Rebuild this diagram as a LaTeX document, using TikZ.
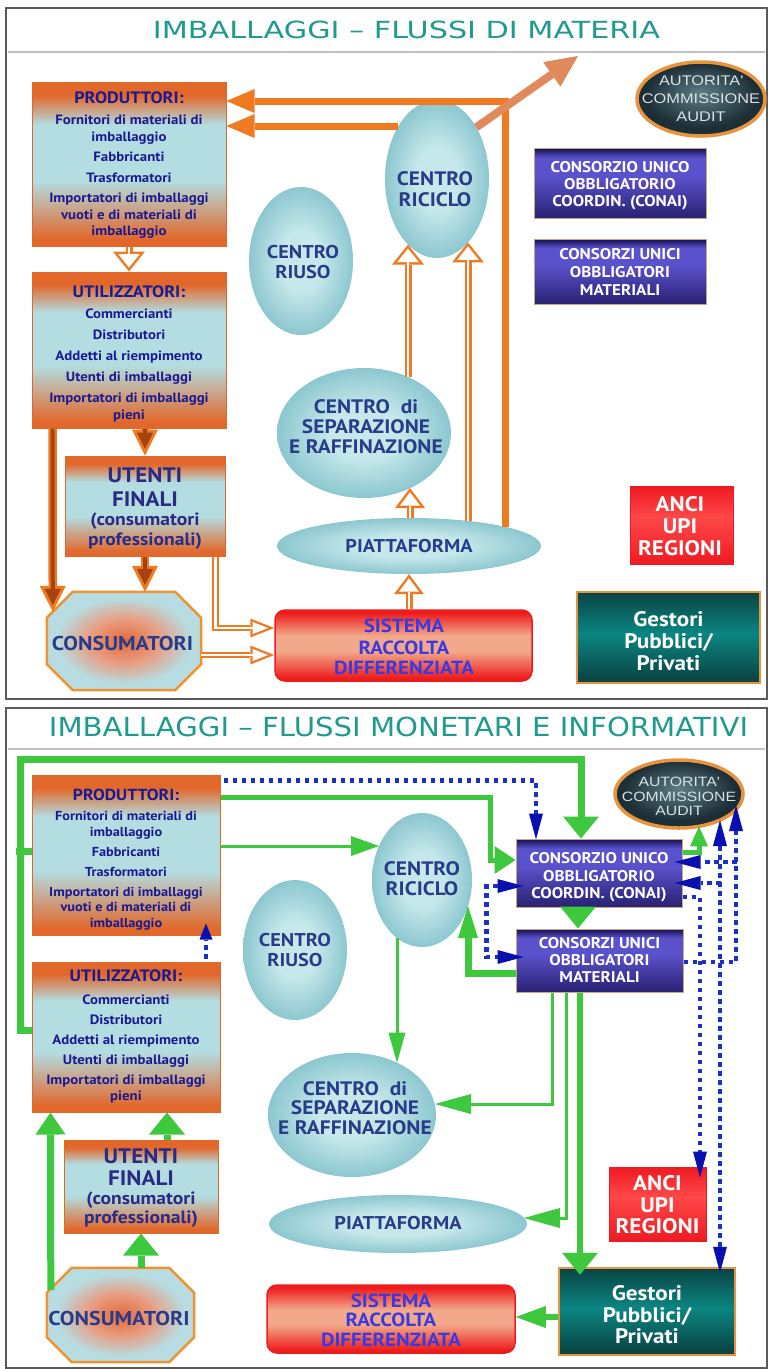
\documentclass[tikz,border=0pt]{standalone}
\usepackage{fontspec}
\setmainfont{PT Sans}[FakeStretch=1.1]
\newfontfamily\titlef{DejaVu Sans}
\newfontfamily\arialw[FakeStretch=1.17]{Liberation Sans}
\usepackage{graphicx}
\usetikzlibrary{shapes.geometric,arrows.meta,calc}

\definecolor{orA}{HTML}{F07A22}
\definecolor{orB}{HTML}{E2672A}
\definecolor{blA}{HTML}{B3DDE1}
\definecolor{brA}{HTML}{A5420E}
\definecolor{diag}{HTML}{E0895A}
\definecolor{grA}{HTML}{3EC83E}
\definecolor{blD}{HTML}{1A30C8}
\definecolor{blH}{HTML}{0A10B0}
\definecolor{navy}{HTML}{1A1A92}
\definecolor{utT}{HTML}{2B2B86}
\definecolor{elT}{HTML}{283C8A}
\definecolor{elC}{HTML}{C6E8EB}
\definecolor{elO}{HTML}{8CC7CF}
\definecolor{redA}{HTML}{EE1C1C}
\definecolor{salA}{HTML}{F2A88A}
\definecolor{sisT}{HTML}{3A3AE0}
\definecolor{purD}{HTML}{1C1660}
\definecolor{purM}{HTML}{5A52CC}
\definecolor{purB}{HTML}{2C2478}
\definecolor{purE}{HTML}{C8A77A}
\definecolor{tealD}{HTML}{0A4444}
\definecolor{tealM}{HTML}{0B8682}
\definecolor{gbord}{HTML}{E8943C}
\definecolor{autD}{HTML}{1C2E36}
\definecolor{autL}{HTML}{5E7C86}
\definecolor{autT}{HTML}{D8E2E4}
\definecolor{titleC}{HTML}{1F9A8E}
\definecolor{frameC}{HTML}{5A5A5A}
\definecolor{sepC}{HTML}{C0C0C0}
\definecolor{octO}{HTML}{E2693A}
\definecolor{octM}{HTML}{E99C80}
\definecolor{octB}{HTML}{B7DDE2}
\definecolor{octBd}{HTML}{F0922E}
\definecolor{ancR}{HTML}{EE1A22}
\definecolor{ancL}{HTML}{FF4848}

\pgfdeclareverticalshading{obo}{100bp}{color(0bp)=(orB); color(27bp)=(orB); color(45bp)=(blA); color(62bp)=(blA); color(71bp)=(orB); color(100bp)=(orB)}
\pgfdeclareverticalshading{rsr}{100bp}{color(0bp)=(redA); color(27bp)=(redA); color(46bp)=(salA); color(57bp)=(salA); color(73bp)=(redA); color(100bp)=(redA)}
\pgfdeclareverticalshading{pur}{100bp}{color(0bp)=(purB); color(27bp)=(purB); color(55bp)=(purM); color(68bp)=(purM); color(74bp)=(purD); color(100bp)=(purD)}
\pgfdeclareverticalshading{tealsh}{100bp}{color(0bp)=(tealD); color(27bp)=(tealD); color(52bp)=(tealM); color(75bp)=(tealD); color(100bp)=(tealD)}
\pgfdeclareverticalshading{ancsh}{100bp}{color(0bp)=(ancR); color(25bp)=(ancR); color(55bp)=(ancL); color(75bp)=(ancR); color(100bp)=(ancR)}
\pgfdeclareradialshading{ellsh}{\pgfpoint{0bp}{0bp}}{color(0bp)=(elC); color(10bp)=(elC); color(25bp)=(elO); color(50bp)=(elO)}
\pgfdeclareradialshading{octsh}{\pgfpoint{0bp}{0bp}}{color(0bp)=(octO); color(11bp)=(octM); color(22bp)=(octB); color(50bp)=(octB)}
\pgfdeclareradialshading{autsh}{\pgfpoint{0bp}{4bp}}{color(0bp)=(autL); color(22bp)=(autD); color(50bp)=(autD)}

\tikzset{
  every node/.style={inner sep=0pt},
  obox/.style={rectangle, shade, shading=obo, draw=orB, line width=1pt},
  ellnode/.style={ellipse, shade, shading=ellsh},
  sisbox/.style={rectangle, rounded corners=10pt, shade, shading=rsr, draw=redA, line width=1.5pt},
  purbox/.style={rectangle, shade, shading=pur, draw=purE, line width=1pt},
  ancbox/.style={rectangle, shade, shading=ancsh, draw=ancR, line width=1pt},
  gestbox/.style={rectangle, shade, shading=tealsh, draw=gbord, line width=2.5pt},
  autnode/.style={ellipse, shade, shading=autsh, draw=gbord, line width=3.5pt},
  octstyle/.style={shade, shading=octsh, draw=octBd, line width=2.5pt},
  lbl/.style={inner sep=0pt, align=center, anchor=north},
  othk/.style={draw=orA, line width=7pt, -{Triangle[length=28pt,width=24pt,line width=0pt]}},
  odiag/.style={draw=diag, line width=8pt, -{Triangle[length=32pt,width=30pt,line width=0pt]}},
  hAo/.style={draw=orA, line width=7pt, -{Triangle[length=20pt,width=32pt,line width=0pt]}},
  hAi/.style={draw=white, line width=2.6pt, shorten >=4pt, -{Triangle[length=13.5pt,width=21.6pt,line width=0pt]}},
  hCo/.style={draw=orA, line width=7pt, -{Triangle[length=20pt,width=30pt,line width=0pt]}},
  hCi/.style={draw=white, line width=2.6pt, shorten >=4.2pt, -{Triangle[length=13.3pt,width=20pt,line width=0pt]}},
  hBo/.style={draw=orA, line width=6.5pt, -{Triangle[length=24pt,width=19pt,line width=0pt]}},
  hBi/.style={draw=white, line width=2.4pt, shorten >=6.3pt, -{Triangle[length=15.4pt,width=12.2pt,line width=0pt]}},
  bro/.style={draw=orA, line width=8.5pt, -{Triangle[length=26pt,width=26pt,line width=0pt]}},
  bri/.style={draw=brA, line width=4pt, shorten >=6.7pt, -{Triangle[length=16.3pt,width=16.3pt,line width=0pt]}},
  gbig/.style={-{Triangle[length=22pt,width=36pt,line width=0pt]}},
  gmed/.style={-{Triangle[length=21pt,width=28pt,line width=0pt]}},
  gsmall/.style={-{Triangle[length=20pt,width=18pt,line width=0pt]}},
  bdot/.style={draw=blD, line width=4.5pt, dash pattern=on 4.5pt off 4.5pt},
  btip/.style={-{Triangle[length=26pt,width=14pt,line width=0pt,color=blH]}},
  btiptwo/.style={{Triangle[length=26pt,width=14pt,line width=0pt,color=blH]}-{Triangle[length=26pt,width=14pt,line width=0pt,color=blH]}},
}
\newcommand\hollowpair[3]{\draw[#1] #3; \draw[#2] #3;}
\newcommand\octshape[3]{\path[#3] ($(#1.north west)+(#2,0)$) -- ($(#1.north east)+(-#2,0)$) -- ($(#1.north east)+(0,#2)$) -- ($(#1.south east)+(0,-#2)$) -- ($(#1.south east)+(-#2,0)$) -- ($(#1.south west)+(#2,0)$) -- ($(#1.south west)+(0,-#2)$) -- ($(#1.north west)+(0,#2)$) -- cycle;}

\begin{document}
\begin{tikzpicture}[x=1pt,y=-1pt]
\useasboundingbox (0,0) rectangle (768,1369);
\fill[white] (0,0) rectangle (768,1369);
% frames
\draw[frameC, line width=1.8pt] (6,8) rectangle (767,699);
\draw[frameC, line width=1.8pt] (6,708) rectangle (767,1368);
\draw[sepC, line width=1.6pt] (8,52) -- (765,52);
\draw[sepC, line width=1.6pt] (8,749) -- (765,749);
\node[text=titleC, font=\titlef] (atitle) at (406.5,30) {\resizebox{507pt}{17.5pt}{IMBALLAGGI – FLUSSI DI MATERIA}};
\node[text=titleC, font=\titlef] (btitle) at (398.5,727) {\resizebox{699pt}{19.5pt}{IMBALLAGGI – FLUSSI MONETARI E INFORMATIVI}};

% ---------- top panel shapes ----------
\node[obox, minimum width=194pt, minimum height=164pt] (aprod) at (129,164) {};
\node[obox, minimum width=194pt, minimum height=156pt] (autil) at (129,350) {};
\node[obox, minimum width=160pt, minimum height=100pt] (auten) at (145,506) {};
\node[minimum width=154pt, minimum height=98pt] (acons) at (124,641) {};
\octshape{acons}{26}{octstyle}
\node[sisbox, minimum width=257pt, minimum height=71pt] (asist) at (403.5,645.5) {};
\node[ellnode, minimum width=264pt, minimum height=56pt] (apiat) at (409,546) {};
\node[ellnode, minimum width=174pt, minimum height=130pt] (asep) at (364,433) {};
\node[ellnode, minimum width=104pt, minimum height=148pt] (ariuso) at (301,261) {};
\node[ellnode, minimum width=104pt, minimum height=158pt] (aricic) at (437,179) {};
\node[autnode, minimum width=128pt, minimum height=74pt] (aaut) at (701,99) {};
\node[purbox, minimum width=172pt, minimum height=70pt] (aconai) at (620,183) {};
\node[purbox, minimum width=172pt, minimum height=65pt] (amat) at (620,271.5) {};
\node[ancbox, minimum width=103pt, minimum height=78pt] (aanci) at (681.5,525) {};
\node[gestbox, minimum width=183pt, minimum height=91pt] (agest) at (668.5,637.5) {};
\coordinate (aout) at (578,56);

% ---------- bottom panel shapes ----------
\node[obox, minimum width=188pt, minimum height=160pt] (bprod) at (126,855) {};
\node[obox, minimum width=188pt, minimum height=150pt] (butil) at (126,1037) {};
\node[obox, minimum width=154pt, minimum height=93pt] (buten) at (141,1186.5) {};
\node[minimum width=147pt, minimum height=94pt] (bcons) at (120.5,1315) {};
\octshape{bcons}{25}{octstyle}
\node[ellnode, minimum width=104pt, minimum height=140pt] (briuso) at (295,950) {};
\node[ellnode, minimum width=100pt, minimum height=134pt] (bricic) at (422,880) {};
\node[ellnode, minimum width=168pt, minimum height=124pt] (bsep) at (352,1115) {};
\node[ellnode, minimum width=258pt, minimum height=58pt] (bpiat) at (398,1224) {};
\node[sisbox, minimum width=248pt, minimum height=68pt] (bsist) at (391,1319) {};
\node[gestbox, minimum width=176pt, minimum height=87pt] (bgest) at (647,1311.5) {};
\node[ancbox, minimum width=97pt, minimum height=74pt] (banci) at (657.5,1204) {};
\node[purbox, minimum width=166pt, minimum height=68pt] (bconai) at (599,873) {};
\node[purbox, minimum width=167pt, minimum height=63pt] (bmat) at (599.5,960.5) {};
\node[autnode, minimum width=128pt, minimum height=68pt] (baut) at (679,794) {};
\coordinate (gl) at (20,759);
\coordinate (gc) at (490,860);

% ---------- top panel connectors ----------
\draw[othk] ($(apiat)+(96,-19.2)$) |- ($(aprod.east)+(0,-63)$);
\draw[othk] ($(aricic)+(-39,-53)$) -- ($(aprod.east)+(0,-38)$);
\draw[odiag] ($(aricic)+(39.3,-51.7)$) -- (aout);
\hollowpair{hAo}{hAi}{(aprod.south) -- (autil.north)}
\hollowpair{hAo}{hAi}{($(asep)+(44,-56)$) -- ($(aricic)+(-29,65.6)$)}
\hollowpair{hAo}{hAi}{($(apiat)+(59,-25)$) -- ($(aricic)+(31,63.4)$)}
\hollowpair{hCo}{hCi}{($(apiat)+(1,-28)$) -- ($(asep)+(46,55)$)}
\hollowpair{hCo}{hCi}{(asist.north -| apiat.south) -- (apiat.south)}
\hollowpair{hBo}{hBi}{($(auten.south east)+(-10,0)$) |- ($(asist.west)+(0,-17.5)$)}
\hollowpair{hBo}{hBi}{($(acons.east)+(0,14)$) -- ($(asist.west)+(0,9.5)$)}
\hollowpair{bro}{bri}{($(autil.south west)+(21,0)$) -- ($(acons.north west)+(6,20)$)}
\hollowpair{bro}{bri}{(autil.south -| auten.north) -- (auten.north)}
\hollowpair{bro}{bri}{(auten.south) -- (auten.south |- acons.north)}

% ---------- bottom panel connectors ----------
\draw[grA, line width=7pt, gbig] ($(butil.west)+(0,-7)$) -| (gl) -| ($(bconai.north)+(-18,0)$);
\draw[grA, line width=7pt] ($(bprod.west)+(0,-4)$) -- ++(-15.5,0);
\draw[grA, line width=5pt, gmed] ($(bprod.east)+(0,-58)$) -| (gc) -- ($(bconai.west)+(0,-13)$);
\draw[grA, line width=3pt, -{Triangle[length=28pt,width=20pt,line width=0pt]}] ($(bprod.east)+(0,-9)$) -- ($(bricic)+(-43,-34)$);
\draw[grA, line width=7pt, gbig] ($(bconai.south)+(-21,0)$) -- ($(bmat.north)+(-21.5,0)$);
\draw[grA, line width=5pt, gsmall] ($(bconai.east)+(0,-21)$) -| ($(baut)+(20,32.3)$);
\draw[grA, line width=7pt, -{Triangle[length=32pt,width=20pt,line width=0pt]}] ($(bmat.west)+(0,12.5)$) -| ($(bricic)+(46,26)$);
\draw[grA, line width=3pt, -{Triangle[length=30pt,width=17pt,line width=0pt]}] ($(bricic)+(-25,58)$) -- ($(bsep)+(45,-52.4)$);
\draw[grA, line width=3pt, -{Triangle[length=36pt,width=20pt,line width=0pt]}] ($(bmat.south)+(-47.5,0)$) |- ($(bsep)+(83,-11)$);
\draw[grA, line width=3pt, -{Triangle[length=36pt,width=20pt,line width=0pt]}] ($(bmat.south)+(-33.5,0)$) |- ($(bpiat)+(126,-6)$);
\draw[grA, line width=6pt, gbig] ($(bmat.south)+(-19.5,0)$) -- ($(bgest.north)+(-67,8)$);
\draw[grA, line width=6pt, -{Triangle[length=30pt,width=22pt,line width=0pt]}] ($(bgest.west)+(0,5.5)$) -- ($(bsist.east)+(0,-2)$);
\draw[grA, line width=7pt, gbig] (buten.south |- bcons.north) -- (buten.south);
\draw[grA, line width=7pt, -{Triangle[length=22pt,width=30pt,line width=0pt]}] ($(bcons.north west)+(4,22)$) -- ($(butil.south west)+(19,0)$);
\draw[grA, line width=7pt, gbig] ($(buten.north)+(26,0)$) -- ($(butil.south)+(41,0)$);

\draw[bdot, btip] ($(bprod.north east)+(3,6)$) -| ($(bconai.north)+(-63,1)$);
\draw[bdot, -{Triangle[length=16pt,width=13pt,line width=0pt,color=blH]}] ($(butil.north)+(80,-3)$) -- ($(bprod.south)+(80,-12)$);
\draw[bdot, btiptwo] ($(bconai.west)+(8,13)$) -| ($(bmat.west)+(-29,-3.5)$) -- ($(bmat.west)+(8,-3.5)$);
\draw[bdot, btiptwo] ($(baut)+(41,26)$) -- ($(bgest.north)+(73,6)$);
\draw[bdot, btip] ($(bconai.east)+(38,10)$) -- ($(bconai.east)+(-8,10)$);
\draw[bdot, btip] ($(bmat.east)+(0,1.5)$) -| ($(baut)+(57,11)$);
\draw[bdot, btip] ($(bconai.east)+(54,-11)$) -- ($(bconai.east)+(-8,-11)$);
\draw[bdot, btip] ($(bconai.east)+(0,24)$) -| ($(banci.north)+(42.5,11)$);

% ---------- top panel texts ----------
\node[lbl, text=navy, font=\fontsize{13.5}{16.5}\selectfont\bfseries] (aprodT) at ($(aprod.north)+(0,10.2)$) {{\fontsize{16.5}{16.5}\selectfont PRODUTTORI:}\\[4.5pt]Fornitori di materiali di\\imballaggio\\[4pt]Fabbricanti\\[4pt]Trasformatori\\[4pt]Importatori di imballaggi\\vuoti e di materiali di\\imballaggio};
\node[lbl, text=navy, font=\fontsize{13.5}{16.5}\selectfont\bfseries] (autilT) at ($(autil.north)+(0,14.1)$) {{\fontsize{16.5}{16.5}\selectfont UTILIZZATORI:}\\[4.5pt]Commercianti\\[4.5pt]Distributori\\[4.5pt]Addetti al riempimento\\[4.5pt]Utenti di imballaggi\\[4.5pt]Importatori di imballaggi\\pieni};
\node[lbl, text=utT, font=\fontsize{17.8}{20}\selectfont\bfseries] (autenT) at ($(auten.north)+(0,11.6)$) {{\fontsize{21}{20}\selectfont UTENTI}\\[4pt]{\fontsize{21}{20}\selectfont FINALI}\\[-1pt](consumatori\\professionali)};
\node[text=elT, font=\fontsize{20}{20}\selectfont\bfseries] (aconsT) at ($(acons)+(-1.5,2.5)$) {CONSUMATORI};
\node[lbl, text=sisT, font=\fontsize{19}{20}\selectfont\bfseries] (asistT) at ($(asist.north)+(0.5,9.35)$) {SISTEMA\\[2pt]RACCOLTA\\DIFFERENZIATA};
\node[text=elT, font=\fontsize{18.5}{20}\selectfont\bfseries] (apiatT) at (apiat) {PIATTAFORMA};
\node[lbl, text=elT, font=\fontsize{19.5}{20}\selectfont\bfseries] (asepT) at ($(asep)+(2,-33.8)$) {CENTRO\ \ di\\SEPARAZIONE\\E RAFFINAZIONE};
\node[lbl, text=elT, font=\fontsize{18.5}{20}\selectfont\bfseries] (ariusoT) at ($(ariuso)+(2,-15.5)$) {CENTRO\\RIUSO};
\node[lbl, text=elT, font=\fontsize{19.5}{21}\selectfont\bfseries] (aricicT) at ($(aricic)+(-2,-7.8)$) {CENTRO\\RICICLO};
\node[lbl, text=autT, font=\fontsize{14}{18}\arialw] (aautT) at ($(aaut)+(0,-23)$) {AUTORITA\textquotesingle\\COMMISSIONE\\AUDIT};
\node[lbl, text=white, font=\fontsize{15.5}{17}\selectfont\bfseries] (aconaiT) at ($(aconai)+(0,-21.4)$) {CONSORZIO UNICO\\OBBLIGATORIO\\COORDIN. (CONAI)};
\node[lbl, text=white, font=\fontsize{15.5}{18}\selectfont\bfseries] (amatT) at ($(amat)+(0,-22.9)$) {CONSORZI UNICI\\OBBLIGATORI\\MATERIALI};
\node[lbl, text=white, font=\fontsize{21}{22}\selectfont\bfseries] (aanciT) at ($(aanci)+(-1.5,-28.35)$) {ANCI\\UPI\\REGIONI};
\node[lbl, text=white, font=\fontsize{21}{22}\selectfont\bfseries] (agestT) at ($(agest)+(0,-26)$) {Gestori\\Pubblici/\\Privati};

% ---------- bottom panel texts ----------
\node[lbl, text=navy, font=\fontsize{13}{15.5}\selectfont\bfseries] (bprodT) at ($(bprod.north)+(0,14.4)$) {{\fontsize{16}{15.5}\selectfont PRODUTTORI:}\\[4.5pt]Fornitori di materiali di\\imballaggio\\[4.5pt]Fabbricanti\\[4.5pt]Trasformatori\\[4.5pt]Importatori di imballaggi\\vuoti e di materiali di\\imballaggio};
\node[lbl, text=navy, font=\fontsize{13.5}{15.5}\selectfont\bfseries] (butilT) at ($(butil.north)+(0,8.2)$) {{\fontsize{16.5}{15.5}\selectfont UTILIZZATORI:}\\[7.5pt]Commercianti\\[4.5pt]Distributori\\[4.5pt]Addetti al riempimento\\[4.5pt]Utenti di imballaggi\\[4.5pt]Importatori di imballaggi\\pieni};
\node[lbl, text=utT, font=\fontsize{17.8}{19}\selectfont\bfseries] (butenT) at ($(buten.north)+(0,8.6)$) {{\fontsize{21}{19}\selectfont UTENTI}\\[3pt]{\fontsize{21}{19}\selectfont FINALI}\\(consumatori\\professionali)};
\node[text=elT, font=\fontsize{20}{20}\selectfont\bfseries] (bconsT) at ($(bcons)+(-1.5,3)$) {CONSUMATORI};
\node[lbl, text=sisT, font=\fontsize{19}{19.5}\selectfont\bfseries] (bsistT) at ($(bsist.north)+(0,9.35)$) {SISTEMA\\RACCOLTA\\DIFFERENZIATA};
\node[text=elT, font=\fontsize{18.5}{20}\selectfont\bfseries] (bpiatT) at ($(bpiat)+(0,-1)$) {PIATTAFORMA};
\node[lbl, text=elT, font=\fontsize{19.5}{19.5}\selectfont\bfseries] (bsepT) at ($(bsep)+(3,-33.8)$) {CENTRO\ \ di\\SEPARAZIONE\\E RAFFINAZIONE};
\node[lbl, text=elT, font=\fontsize{18.5}{20}\selectfont\bfseries] (briusoT) at ($(briuso)+(0,-16.5)$) {CENTRO\\RIUSO};
\node[lbl, text=elT, font=\fontsize{19.5}{20}\selectfont\bfseries] (bricicT) at ($(bricic)+(0,-18.8)$) {CENTRO\\RICICLO};
\node[lbl, text=autT, font=\fontsize{13.5}{14.5}\arialw] (bautT) at ($(baut)+(0,-17)$) {AUTORITA\textquotesingle\\COMMISSIONE\\AUDIT};
\node[lbl, text=white, font=\fontsize{15.5}{17.5}\selectfont\bfseries] (bconaiT) at ($(bconai)+(0,-20.4)$) {CONSORZIO UNICO\\OBBLIGATORIO\\COORDIN. (CONAI)};
\node[lbl, text=white, font=\fontsize{15.5}{17}\selectfont\bfseries] (bmatT) at ($(bmat)+(0,-22.9)$) {CONSORZI UNICI\\OBBLIGATORI\\MATERIALI};
\node[lbl, text=white, font=\fontsize{21}{21.5}\selectfont\bfseries] (banciT) at ($(banci)+(0,-28.35)$) {ANCI\\UPI\\REGIONI};
\node[lbl, text=white, font=\fontsize{21}{21.5}\selectfont\bfseries] (bgestT) at ($(bgest)+(0,-26)$) {Gestori\\Pubblici/\\Privati};
\end{tikzpicture}
\end{document}
